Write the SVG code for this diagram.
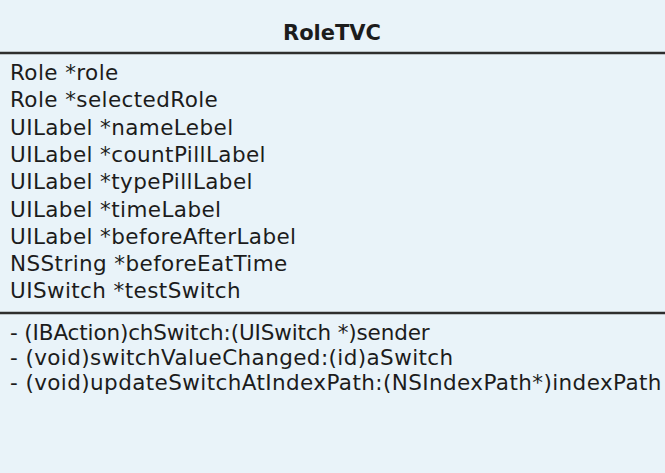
<svg xmlns="http://www.w3.org/2000/svg" width="665" height="473" viewBox="0 0 665 473">
<style>
.t{font-family:"DejaVu Sans","Liberation Sans",sans-serif;font-size:21.5px;letter-spacing:0.4px;fill:#1c1c1c}
.h{font-family:"DejaVu Sans","Liberation Sans",sans-serif;font-size:21px;font-weight:bold;fill:#1c1c1c}
.sep{stroke:#2e2e2e;stroke-width:2.5}
</style>
<rect width="665" height="473" fill="#e9f3f9"/>
<g id="RoleTVC">
<text class="h" x="332" y="40" text-anchor="middle">RoleTVC</text>
<line class="sep" x1="0" y1="53" x2="665" y2="53"/>
<text class="t" x="10" y="80">Role *role</text>
<text class="t" x="10" y="107">Role *selectedRole</text>
<text class="t" x="10" y="135">UILabel *nameLebel</text>
<text class="t" x="10" y="162">UILabel *countPillLabel</text>
<text class="t" x="10" y="189">UILabel *typePillLabel</text>
<text class="t" x="10" y="217">UILabel *timeLabel</text>
<text class="t" x="10" y="244">UILabel *beforeAfterLabel</text>
<text class="t" x="10" y="271">NSString *beforeEatTime</text>
<text class="t" x="10" y="298">UISwitch *testSwitch</text>
<line class="sep" x1="0" y1="313" x2="665" y2="313"/>
<text class="t" x="10" y="340" textLength="420" lengthAdjust="spacing">- (IBAction)chSwitch:(UISwitch *)sender</text>
<text class="t" x="10" y="365">- (void)switchValueChanged:(id)aSwitch</text>
<text class="t" x="10" y="390">- (void)updateSwitchAtIndexPath:(NSIndexPath*)indexPath</text>
</g>
</svg>
